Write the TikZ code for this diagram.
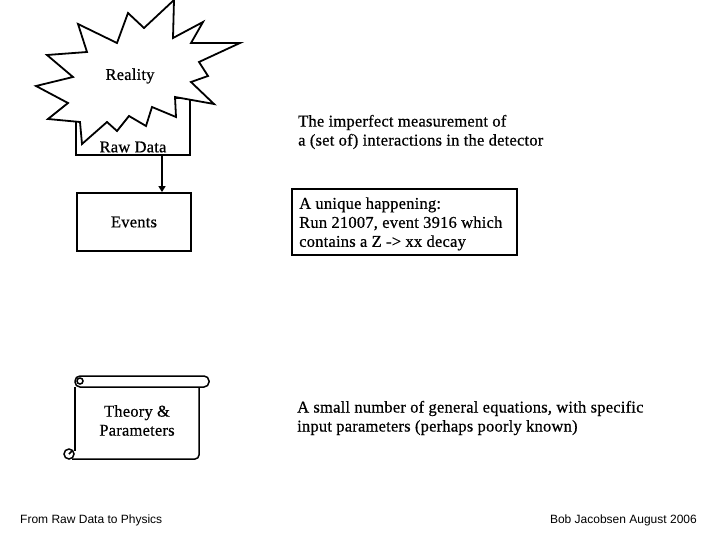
\documentclass[tikz,border=0pt]{standalone}
\usepackage{fontspec}
\setmainfont{Liberation Serif}[LetterSpace=1.3, FakeBold=0.6]
\newfontfamily\footfont{Liberation Sans}
\usetikzlibrary{arrows.meta}
\begin{document}
\begin{tikzpicture}[x=1pt,y=-1pt, line join=miter,
  boxst/.style={draw, line width=1.8pt, inner sep=0pt},
  thinln/.style={line width=1.5pt},
  lbl/.style={font=\fontsize{16.5}{19}\selectfont, inner sep=0pt, align=center},
  rtxt/.style={font=\fontsize{16.5}{19}\selectfont, inner sep=0pt, align=left, anchor=west},
  foot/.style={font=\footfont\fontsize{12}{14}\selectfont, inner sep=0pt}]
\useasboundingbox (0,0) rectangle (720,540);
% Raw data box
\node[boxst, minimum width=114pt, minimum height=57pt] (rawbox) at (133,126.5) {};
% Reality star
\draw[line width=1.8pt, fill=white] (174,0) -- (173,38) -- (203,22) -- (191,43) -- (240,43) -- (199,62) -- (208,76) -- (191,82) -- (214,104) -- (175,97) -- (176,117) -- (152,107) -- (146,126) -- (129,116) -- (117,131) -- (107,122) -- (82,144) -- (80,122) -- (48,119) -- (68,103) -- (36,86) -- (73,77) -- (47,55) -- (87,52) -- (78,24) -- (117,43) -- (128,13) -- (144,28) -- cycle;
\node[lbl] (reality) at (130,76) {Reality};
\node[lbl] (rawlbl) at (133,147) {Raw Data};
% Events box
\node[boxst, minimum width=114pt, minimum height=58pt, lbl] (events) at (134,222) {Events};
\coordinate (ax) at (162,0);
\draw[line width=1.8pt, -{Triangle[length=6pt,width=7pt]}] (rawbox.south -| ax) -- (events.north -| ax);
% Scroll
\draw[thinln, rounded corners=5pt] (75,376) rectangle (209,387);
\draw[thinln] (80,381) circle (3);
\draw[thinln] (75,387) -- (75,451);
\draw[thinln, rounded corners=4pt] (199,387) -- (199,459) -- (72,459);
\draw[thinln, fill=white] (69,454) circle (5);
\draw[thinln] (69,454) -- (72,451);
\node[lbl] (theory) at (137,420.5) {Theory \&\\Parameters};
% Right texts
\node[rtxt] (t1) at (298,132) {The imperfect measurement of\\a (set of) interactions in the detector};
\node[boxst, anchor=north west, minimum width=225pt, minimum height=66pt] (t2) at (291,188) {};
\node[rtxt] (t2txt) at ([xshift=8pt,yshift=-2pt]t2.west) {A unique happening:\\Run 21007, event 3916 which\\contains a Z -> xx decay};
\node[rtxt] (t3) at (297,418) {A small number of general equations, with specific\\input parameters (perhaps poorly known)};
% Footer
\node[foot, anchor=west] (f1) at (20,520) {From Raw Data to Physics};
\node[foot, anchor=east] (f2) at (697,520) {Bob Jacobsen August 2006};
\end{tikzpicture}
\end{document}
